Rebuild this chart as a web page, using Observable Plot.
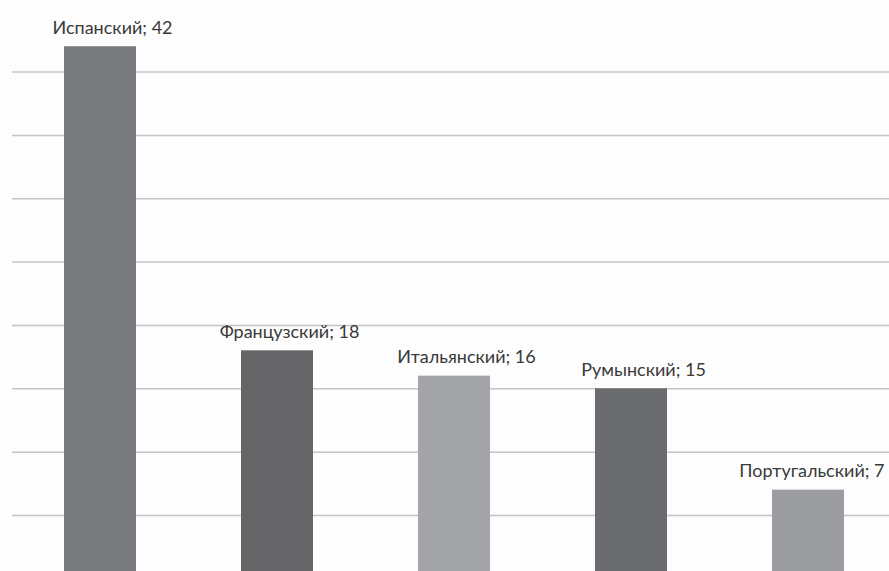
<!DOCTYPE html>
<html><head><meta charset="utf-8">
<script src="https://cdn.jsdelivr.net/npm/d3@7"></script>
<script src="https://cdn.jsdelivr.net/npm/@observablehq/plot@0.6"></script>
<style>html,body{margin:0;padding:0;background:#fdfdfd;overflow:hidden}</style>
</head><body><div id="chart"></div>
<script>
const languages = ["Испанский", "Французский", "Итальянский", "Румынский", "Португальский"];
const counts = [42, 18, 16, 15, 7];
const barColors = ["#7a7b7f", "#666668", "#a3a4a7", "#6a6b6e", "#9c9da0"];
const gridValues = [5, 10, 15, 20, 25, 30, 35, 40];

const data = languages.map((name, i) => ({name, value: counts[i], color: barColors[i], label: `${name}; ${counts[i]}`}));
const lastIndex = data.length - 1;

const chart = Plot.plot({
  width: 889,
  height: 571,
  marginTop: 0, marginBottom: 0, marginLeft: 12, marginRight: 0,
  style: {background: "#fdfdfd", fontFamily: "Lato, sans-serif"},
  x: {domain: languages, range: [11.5, 896.5], paddingInner: 0.593, paddingOuter: 0.2965, axis: null},
  y: {domain: [0.58, 45.65], axis: null},
  color: {type: "identity"},
  marks: [
    Plot.ruleY(gridValues, {stroke: "#c4c4c4", strokeWidth: 1.5}),
    Plot.barY(data, {x: "name", y: "value", fill: "color"}),
    Plot.text(data.slice(0, lastIndex), {x: "name", y: "value", text: "label", lineAnchor: "bottom", dy: -13, dx: 12, fontSize: 18, fill: "#3a3a3a"}),
    Plot.text(data.slice(lastIndex), {x: "name", y: "value", text: "label", lineAnchor: "bottom", textAnchor: "end", dy: -13, dx: 76, fontSize: 18, fill: "#3a3a3a"})
  ]
});
document.getElementById("chart").append(chart);
</script></body></html>
